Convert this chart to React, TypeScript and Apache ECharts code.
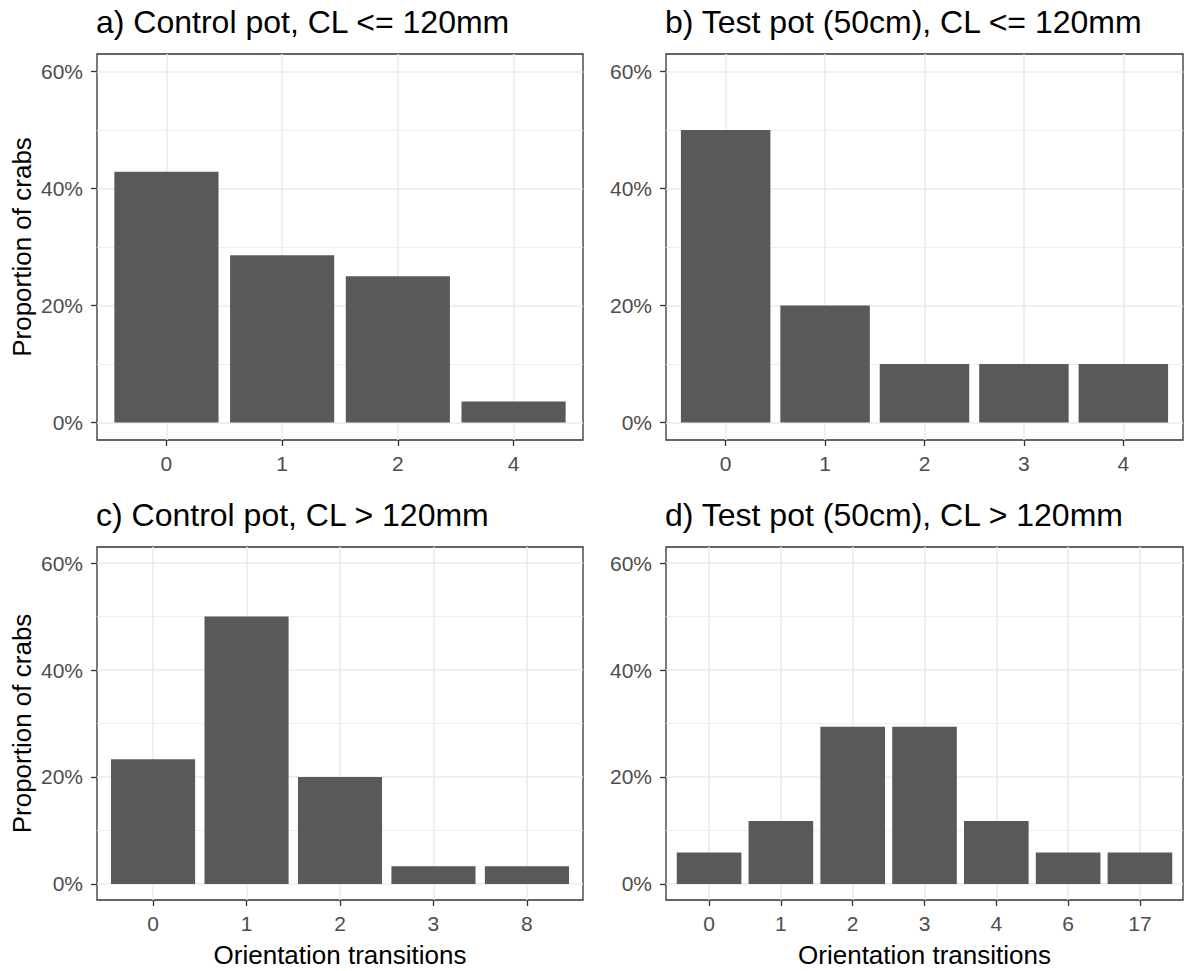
import React, { useEffect, useRef } from "react";
import * as echarts from "echarts";

const FONT = "'Liberation Sans', Arial, Helvetica, sans-serif";

const titles = [
  "a) Control pot, CL <= 120mm",
  "b) Test pot (50cm), CL <= 120mm",
  "c) Control pot, CL > 120mm",
  "d) Test pot (50cm), CL > 120mm",
];

const catsA = ["0", "1", "2", "4"];
const valsA = [0.4286, 0.2857, 0.25, 0.0357];

const catsB = ["0", "1", "2", "3", "4"];
const valsB = [0.5, 0.2, 0.1, 0.1, 0.1];

const catsC = ["0", "1", "2", "3", "8"];
const valsC = [0.2333, 0.5, 0.2, 0.0333, 0.0333];

const catsD = ["0", "1", "2", "3", "4", "6", "17"];
const valsD = [0.0588, 0.1176, 0.2941, 0.2941, 0.1176, 0.0588, 0.0588];

const yMajorTicks = [0, 0.2, 0.4, 0.6];
const yMinorTicks = [0.1, 0.3, 0.5];
const yMin = -0.03;
const yMax = 0.63;

const yAxisTitle = "Proportion of crabs";
const xAxisTitle = "Orientation transitions";

const panels = [
  { cats: catsA, vals: valsA, grid: { left: 97, top: 54, width: 486, height: 386 }, yName: true, xName: false },
  { cats: catsB, vals: valsB, grid: { left: 666, top: 54, width: 517, height: 386 }, yName: false, xName: false },
  { cats: catsC, vals: valsC, grid: { left: 97, top: 547, width: 486, height: 353 }, yName: true, xName: true },
  { cats: catsD, vals: valsD, grid: { left: 666, top: 547, width: 517, height: 353 }, yName: false, xName: true },
];

export default function App() {
  const ref = useRef<HTMLDivElement>(null);
  useEffect(() => {
    if (!ref.current) return;
    const chart = echarts.init(ref.current, undefined, { renderer: "svg" });
    const grid: any[] = [];
    const xAxis: any[] = [];
    const yAxis: any[] = [];
    const series: any[] = [];
    const title: any[] = [];

    panels.forEach((p, i) => {
      grid.push({
        ...p.grid,
        show: true,
        borderColor: "#333333",
        borderWidth: 1.3,
        backgroundColor: "#ffffff",
        containLabel: false,
      });
      title.push({
        text: titles[i],
        left: p.grid.left - 1,
        top: p.grid.top - 48,
        padding: 0,
        textStyle: { fontSize: 32, fontWeight: "normal", color: "#000000", fontFamily: FONT },
      });
      const idx = p.cats.map((_, k) => k);
      xAxis.push({
        type: "value",
        gridIndex: i,
        min: -0.6,
        max: p.cats.length - 0.4,
        axisLine: { show: false, onZero: false },
        axisTick: { show: true, length: 6, customValues: idx, lineStyle: { color: "#333333", width: 1.3 } },
        axisLabel: {
          show: true,
          customValues: idx,
          margin: 13,
          color: "#4D4D4D",
          fontSize: 21,
          fontFamily: FONT,
          formatter: (v: number) => p.cats[Math.round(v)] ?? "",
        },
        splitLine: { show: true, lineStyle: { color: "#EBEBEB", width: 1.6 } },
        name: p.xName ? xAxisTitle : "",
        nameLocation: "middle",
        nameGap: 42,
        nameTextStyle: { fontSize: 26, color: "#000000", fontFamily: FONT },
      });
      yAxis.push({
        type: "value",
        gridIndex: i,
        min: yMin,
        max: yMax,
        axisLine: { show: false, onZero: false },
        axisTick: { show: true, length: 6, customValues: yMajorTicks, lineStyle: { color: "#333333", width: 1.3 } },
        axisLabel: {
          show: true,
          customValues: yMajorTicks,
          margin: 14,
          color: "#4D4D4D",
          fontSize: 21,
          fontFamily: FONT,
          formatter: (v: number) => Math.round(v * 100) + "%",
        },
        splitLine: { show: true, lineStyle: { color: "#EBEBEB", width: 1.6 } },
        name: p.yName ? yAxisTitle : "",
        nameLocation: "middle",
        nameGap: 62,
        nameTextStyle: { fontSize: 26, color: "#000000", fontFamily: FONT },
      });
      yAxis.push({
        type: "value",
        gridIndex: i,
        min: yMin,
        max: yMax,
        axisLine: { show: false, onZero: false },
        axisTick: { show: false, customValues: yMinorTicks },
        axisLabel: { show: false, customValues: yMinorTicks },
        splitLine: { show: true, lineStyle: { color: "#EEEEEE", width: 1 } },
      });
      series.push({
        type: "custom",
        xAxisIndex: i,
        yAxisIndex: i * 2,
        data: p.vals.map((v, k) => [k, v]),
        renderItem: (params: any, api: any) => {
          const x = api.value(0);
          const y = api.value(1);
          const p0 = api.coord([x - 0.45, y]);
          const p1 = api.coord([x + 0.45, 0]);
          return {
            type: "rect",
            shape: { x: p0[0], y: p0[1], width: p1[0] - p0[0], height: p1[1] - p0[1] },
            style: { fill: "#595959" },
          };
        },
      });
    });

    chart.setOption({
      animation: false,
      backgroundColor: "#ffffff",
      title,
      grid,
      xAxis,
      yAxis,
      series,
    });
    return () => chart.dispose();
  }, []);

  return (
    <div
      ref={ref}
      style={{ position: "fixed", left: 0, top: 0, width: 1184, height: 971, background: "#fff" }}
    />
  );
}
